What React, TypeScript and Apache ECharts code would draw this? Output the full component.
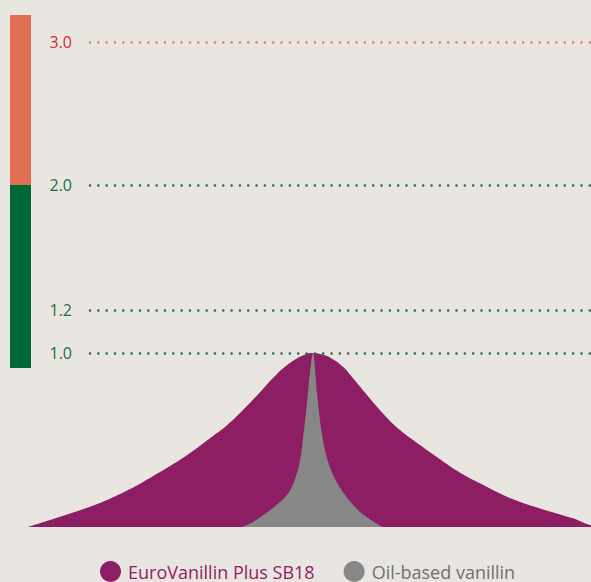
import React, { useEffect, useRef } from 'react';
import * as echarts from 'echarts';

// Threshold levels (labels and their heights on the chart's scale, peak = 1.0)
const levelLabels = ['3.0', '2.0', '1.2', '1.0'];
const levelHeights = [2.787, 1.966, 1.247, 1.0];

// Left scale bar bands (bottom / top heights)
const bandFrom = [0.914, 1.966];
const bandTo = [1.966, 2.943];

const seriesNames = ['EuroVanillin Plus SB18', 'Oil-based vanillin'];

// EuroVanillin Plus SB18 distribution (offset from centre, relative height)
const purpleX = [-285, -263, -243, -223, -203, -183, -163, -143, -123, -103, -86, -70, -53, -36, -20, -8, 0, 8, 17, 30, 40, 54, 70, 87, 107, 127, 147, 167, 194, 227, 260, 277, 290];
const purpleY = [0, 0.04, 0.078, 0.117, 0.163, 0.218, 0.282, 0.35, 0.425, 0.51, 0.585, 0.672, 0.775, 0.88, 0.955, 0.992, 1.0, 0.993, 0.975, 0.921, 0.855, 0.759, 0.653, 0.557, 0.471, 0.389, 0.312, 0.251, 0.174, 0.107, 0.05, 0.011, 0];

// Oil-based vanillin distribution
const greyX = [-71, -60, -40, -26, -20, -15, -12, -10, -7, -4, 0, 4, 8, 13, 20, 30, 47, 69];
const greyY = [0, 0.029, 0.109, 0.184, 0.245, 0.33, 0.414, 0.51, 0.66, 0.83, 1.0, 0.77, 0.57, 0.414, 0.3, 0.2, 0.086, 0];

const FONT = 'Open Sans';
const PURPLE = '#8E1E63';
const GREY = '#878787';
const GREEN = '#006837';
const ORANGE = '#E06E52';

export default function App() {
  const ref = useRef<HTMLDivElement>(null);
  useEffect(() => {
    if (!ref.current) return;
    const chart = echarts.init(ref.current, undefined, { renderer: 'svg' });
    const lineColors = ['#E5795C', '#1F6E45', '#1F6E45', '#1F6E45'];
    const labelColors = ['#D22B3A', '#1A6E47', '#1A6E47', '#1A6E47'];
    const bandColors = [GREEN, ORANGE];
    const option: any = {
      animation: false,
      backgroundColor: '#E9E6E1',
      grid: { left: 0, right: 0, top: 15, bottom: 55, containLabel: false },
      xAxis: { type: 'value', min: -313, max: 278, show: false },
      yAxis: { type: 'value', min: 0, max: 2.943, show: false },
      legend: {
        data: [
          { name: seriesNames[0], textStyle: { color: PURPLE } },
          { name: seriesNames[1], textStyle: { color: '#707070' } },
        ],
        icon: 'circle',
        itemWidth: 21,
        itemHeight: 21,
        itemGap: 29,
        left: 100,
        top: 561,
        padding: 0,
        textStyle: { fontFamily: FONT, fontSize: 18, padding: [0, 0, 0, 2] },
        selectedMode: false,
      },
      series: [
        {
          name: 'levels',
          type: 'line',
          data: [],
          z: 1,
          silent: true,
          markLine: {
            silent: true,
            symbol: ['none', 'none'],
            data: levelLabels.map((lab, i) => [
              {
                coord: [-223, levelHeights[i]],
                lineStyle: { color: lineColors[i], width: 2.6, type: [0, 8.33], cap: 'round' },
                label: {
                  show: true,
                  position: 'start',
                  distance: 18,
                  formatter: lab,
                  color: labelColors[i],
                  fontFamily: FONT,
                  fontSize: 16,
                },
              },
              { coord: [278, levelHeights[i]] },
            ]),
          },
          markArea: {
            silent: true,
            data: bandFrom.map((f, i) => [
              { xAxis: -303, yAxis: f, itemStyle: { color: bandColors[i], opacity: 1 } },
              { xAxis: -282, yAxis: bandTo[i] },
            ]),
          },
        },
        {
          name: seriesNames[0],
          type: 'line',
          z: 2,
          smooth: 0.4,
          symbol: 'none',
          lineStyle: { width: 0 },
          itemStyle: { color: PURPLE },
          areaStyle: { color: PURPLE, opacity: 1 },
          data: purpleX.map((x, i) => [x, purpleY[i]]),
        },
        {
          name: seriesNames[1],
          type: 'line',
          z: 3,
          smooth: 0.3,
          symbol: 'none',
          lineStyle: { width: 0 },
          itemStyle: { color: GREY },
          areaStyle: { color: GREY, opacity: 1 },
          data: greyX.map((x, i) => [x, greyY[i]]),
        },
      ],
    };
    chart.setOption(option);
    return () => chart.dispose();
  }, []);
  return (
    <div
      ref={ref}
      style={{ position: 'fixed', left: 0, top: 0, width: 591, height: 582 }}
    />
  );
}
